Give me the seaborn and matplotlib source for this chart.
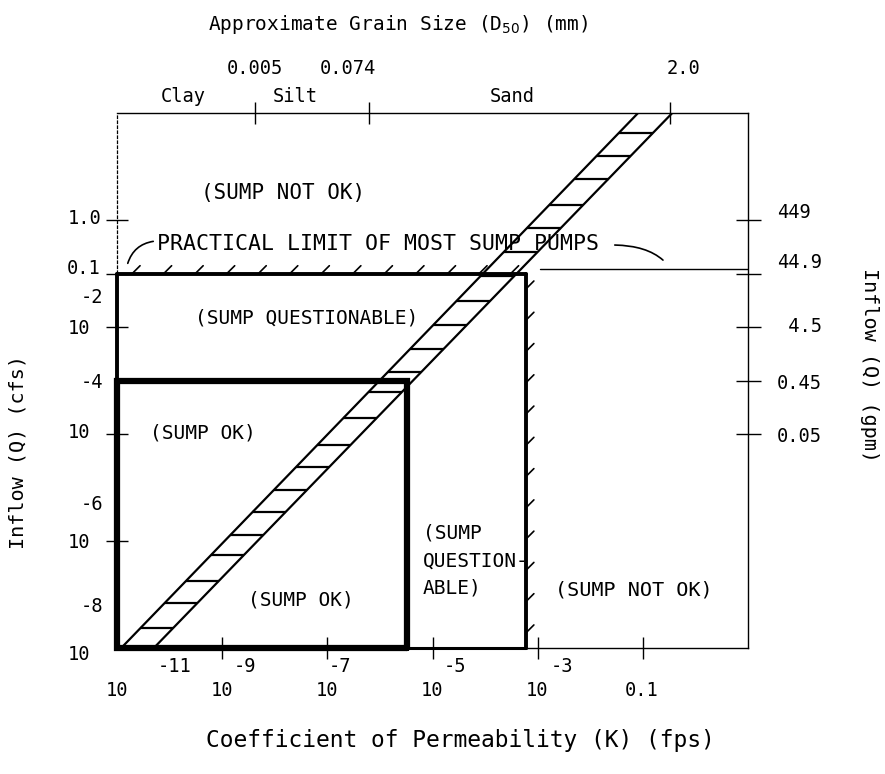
import numpy as np
import pandas as pd
import matplotlib
matplotlib.use("Agg")
import matplotlib.pyplot as plt
import matplotlib.patheffects as pe
import seaborn as sns

# chart limits (K in fps, Q in cfs)
k_range = [1e-11, 1e1]
q_range = [1e-8, 1e2]

# hatched K-Q band (two edges, Q at bottom and top)
band_q = [1e-8, 1e2]
band_left_k = [10 ** -10.92, 10 ** -1.09]
band_right_k = [10 ** -10.3, 10 ** -0.44]
rung_log_q = [-7.63, -7.16, -6.75, -6.26, -5.89, -5.46, -5.05, -4.62, -4.21, -3.70, -3.21,
              -2.84, -2.41, -1.96, -1.51, -1.05, -0.60, -0.15, 0.28, 0.77, 1.20, 1.63]

# region boundaries
limit_q = 0.1          # practical limit of most sump pumps
ok_q = 1e-3            # top of "sump ok" box
ok_k = 10 ** -5.48     # right side of "sump ok" box
quest_k = 10 ** -3.22  # right side of "sump questionable" box

# axis ticks
k_ticks = [1e-9, 1e-7, 1e-5, 1e-3, 1e-1]
cfs_ticks = [1.0, 0.1, 1e-2, 1e-4, 1e-6]
gpm_ticks = [1.0, 0.1, 1e-2, 1e-3, 1e-4]
gpm_labels = ["449", "44.9", " 4.5", "0.45", "0.05"]
grain_k = [10 ** -8.37, 10 ** -6.21, 10 ** -0.48]
grain_labels = ["0.005", "0.074", "2.0"]
soil_names = ["Clay", "Silt", "Sand"]

sns.set_theme(style="ticks", rc={"axes.edgecolor": "black", "axes.linewidth": 1.0})
plt.rcParams["font.family"] = ["DejaVu Sans Mono", "DejaVu Sans"]

W, H = 885, 774
fig = plt.figure(figsize=(W / 100, H / 100), dpi=100)
fig.patch.set_facecolor("white")


def put(x, y, s, size=13.5, ha="center", **kw):
    # place typed text by pixel position on the page
    fig.text(x / W, 1 - y / H, s, ha=ha, va="center", size=size, color="black", **kw)


ax = fig.add_axes([117 / W, 1 - 648 / H, (748 - 117) / W, (648 - 113) / H])
ax.set_xscale("log")
ax.set_yscale("log")
ax.set_xlim(k_range)
ax.set_ylim(q_range)
ax.spines["left"].set_linestyle((0, (2, 2)))
ax.spines["left"].set_linewidth(0.9)

# band edges
band = pd.DataFrame({
    "K": band_left_k + band_right_k,
    "Q": band_q + band_q,
    "edge": ["left", "left", "right", "right"],
})
sns.lineplot(data=band, x="K", y="Q", units="edge", estimator=None, sort=False,
             color="black", lw=1.6, ax=ax, legend=False)
ax.set_xlabel("")
ax.set_ylabel("")
lq = np.log10(band_q)
rung_left = 10 ** np.interp(rung_log_q, lq, np.log10(band_left_k))
rung_right = 10 ** np.interp(rung_log_q, lq, np.log10(band_right_k))
ax.hlines(10 ** np.array(rung_log_q), rung_left, rung_right, color="black", lw=1.6)

# sump ok box
ax.plot([ok_k, k_range[0], k_range[0], ok_k, ok_k], [q_range[0], q_range[0], ok_q, ok_q, q_range[0]],
        color="black", lw=4.5, solid_joinstyle="miter", clip_on=False, zorder=4)
# sump questionable box
ax.plot([k_range[0], k_range[0]], [ok_q, limit_q], color="black", lw=2.8, clip_on=False, zorder=4)
ax.plot([ok_k, quest_k], [q_range[0], q_range[0]], color="black", lw=2.2, clip_on=False, zorder=4)
ax.plot([k_range[0], quest_k], [limit_q, limit_q], color="black", lw=2.8, clip_on=False, zorder=4,
        path_effects=[pe.withTickedStroke(spacing=22, angle=45, length=0.36, linewidth=1.2)])
ax.plot([quest_k, quest_k], [q_range[0], limit_q], color="black", lw=2.8, clip_on=False, zorder=4,
        path_effects=[pe.withTickedStroke(spacing=22, angle=-45, length=0.36, linewidth=1.2)])
ax.plot([10 ** -2.95, k_range[1]], [limit_q * 1.2, limit_q * 1.2], color="black", lw=1.0)

# ticks
ax.set_xticks(k_ticks)
ax.set_yticks(cfs_ticks)
ax.set_xticklabels([])
ax.set_yticklabels([])
ax.minorticks_off()
ax.tick_params(direction="inout", length=16, width=1.0, color="black")

axr = ax.twinx()
axr.set_yscale("log")
axr.set_ylim(q_range)
axr.set_yticks(gpm_ticks)
axr.set_yticklabels([])
axr.minorticks_off()
axr.tick_params(direction="inout", length=18, width=1.0, color="black")

axt = ax.twiny()
axt.set_xscale("log")
axt.set_xlim(k_range)
axt.set_xticks(grain_k)
axt.set_xticklabels([])
axt.minorticks_off()
axt.tick_params(direction="inout", length=16, width=1.0, color="black")
for a in (axr, axt):
    for s in a.spines.values():
        s.set_visible(False)

# leaders for the practical limit note
fig_px = dict(xycoords="figure pixels", textcoords="figure pixels", annotation_clip=False)
ax.annotate("", xy=(127, H - 266), xytext=(156, H - 241),
            arrowprops=dict(arrowstyle="-", lw=1.2, color="black", connectionstyle="arc3,rad=0.35"), **fig_px)
ax.annotate("", xy=(665, H - 262), xytext=(612, H - 245),
            arrowprops=dict(arrowstyle="-", lw=1.2, color="black",
                            connectionstyle="angle3,angleA=0,angleB=-45"), **fig_px)

# region notes
put(283, 193, "(SUMP NOT OK)", size=15)
put(157, 244, "PRACTICAL LIMIT OF MOST SUMP PUMPS", size=15.5, ha="left")
put(307, 318, "(SUMP QUESTIONABLE)", size=14)
put(150, 433, "(SUMP OK)", size=14, ha="left")
put(248, 600, "(SUMP OK)", size=14, ha="left")
put(423, 533, "(SUMP", size=14, ha="left")
put(423, 561, "QUESTION-", size=14, ha="left")
put(423, 588, "ABLE)", size=14, ha="left")
put(634, 590, "(SUMP NOT OK)", size=14.5)

# top axis text
put(398, 25, "Approximate Grain Size (D$_{50}$) (mm)", size=14)
for x, s in zip([255, 348, 684], grain_labels):
    put(x, 68, s)
for x, s in zip([183, 295, 512], soil_names):
    put(x, 97, s)

# bottom axis text
for x in [117, 222, 327, 432, 537]:
    put(x, 690, "10")
put(642, 690, "0.1")
for x, s in zip([175, 245, 340, 455, 562], ["-11", "-9", "-7", "-5", "-3"]):
    put(x, 667, s)
put(460, 740, "Coefficient of Permeability (K) (fps)", size=16.5)

# left axis text
put(101, 218, "1.0", ha="right")
put(101, 268, "0.1", ha="right")
for y in [328, 432, 543, 655]:
    put(68, y, "10", ha="left")
for y, s in zip([298, 382, 505, 607], ["-2", "-4", "-6", "-8"]):
    put(103, y, s, ha="right")
put(18, 452, "Inflow (Q) (cfs)", size=14.5, rotation=90)

# right axis text
for y, s in zip([213, 263, 327, 383, 437], gpm_labels):
    put(777, y, s, ha="left")
put(870, 365, "Inflow (Q) (gpm)", size=14.5, rotation=-90)

fig.savefig("out.png", dpi=100, facecolor="white")
